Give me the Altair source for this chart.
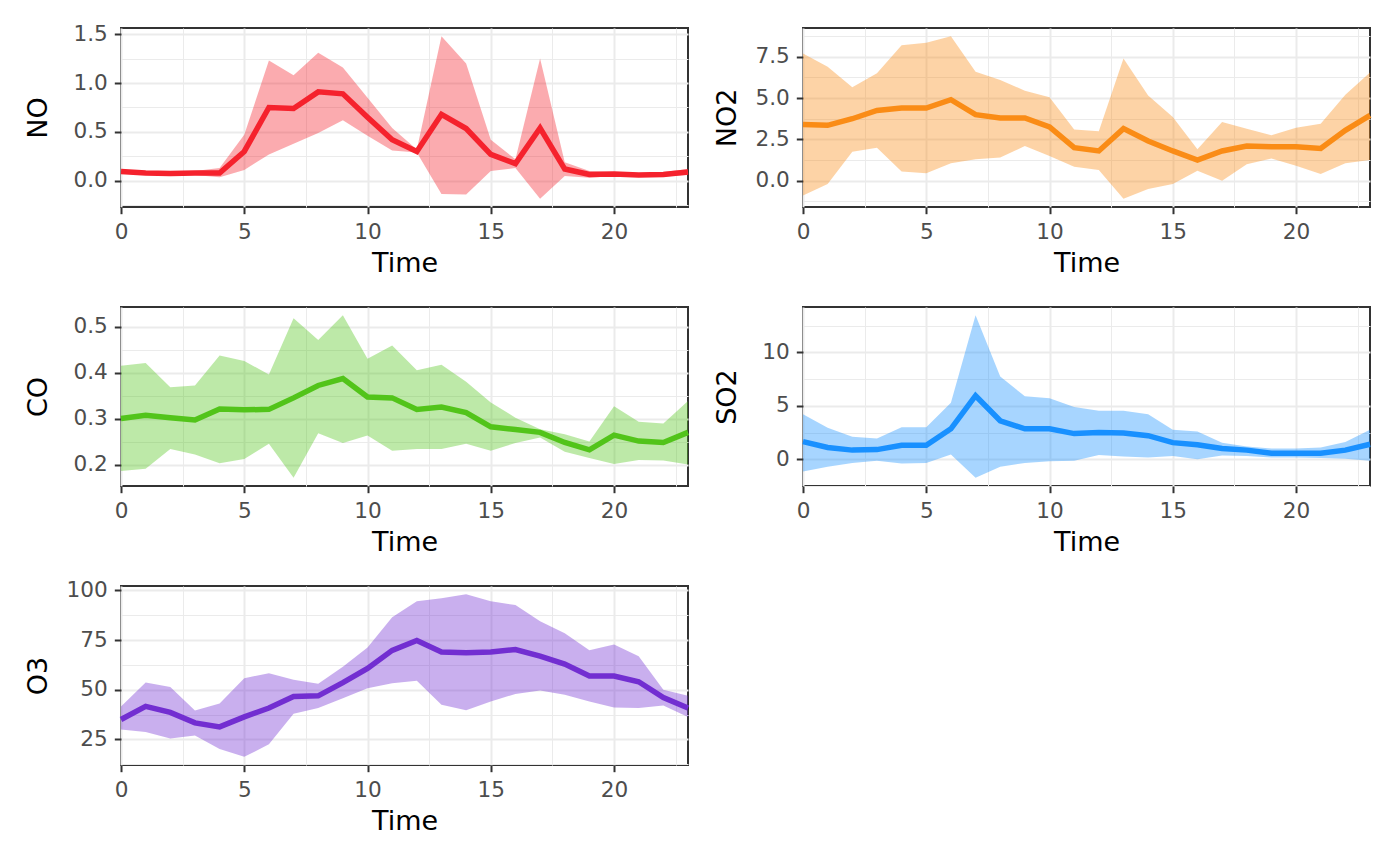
import altair as alt
import pandas as pd

hours = list(range(24))

no_mean = [0.095, 0.08, 0.075, 0.08, 0.08, 0.30, 0.75, 0.74, 0.91, 0.89, 0.65, 0.42,
           0.30, 0.68, 0.535, 0.27, 0.175, 0.54, 0.12, 0.065, 0.07, 0.06, 0.065, 0.09]
no_lo = [0.085, 0.07, 0.065, 0.06, 0.035, 0.11, 0.27, 0.38, 0.49, 0.62, 0.46, 0.31,
         0.29, -0.135, -0.14, 0.10, 0.13, -0.185, 0.05, 0.03, 0.05, 0.04, 0.045, 0.06]
no_hi = [0.10, 0.09, 0.085, 0.10, 0.13, 0.47, 1.23, 1.08, 1.31, 1.16, 0.85, 0.54,
         0.32, 1.48, 1.20, 0.42, 0.22, 1.25, 0.19, 0.10, 0.09, 0.08, 0.09, 0.12]

no2_mean = [3.4, 3.35, 3.75, 4.25, 4.4, 4.4, 4.9, 4.0, 3.8, 3.8, 3.25, 2.0,
            1.8, 3.15, 2.4, 1.8, 1.25, 1.8, 2.1, 2.05, 2.05, 1.95, 3.05, 3.95]
no2_lo = [-0.9, -0.2, 1.75, 2.0, 0.55, 0.45, 1.05, 1.3, 1.4, 2.1, 1.5, 0.85,
          0.65, -1.1, -0.5, -0.2, 0.6, 0.0, 1.0, 1.35, 0.9, 0.4, 1.05, 1.25]
no2_hi = [7.7, 6.9, 5.65, 6.5, 8.2, 8.35, 8.75, 6.6, 6.1, 5.45, 5.05, 3.1,
          3.0, 7.4, 5.15, 3.85, 1.9, 3.55, 3.15, 2.75, 3.2, 3.45, 5.2, 6.55]

co_mean = [0.300, 0.307, 0.302, 0.297, 0.321, 0.319, 0.320, 0.345, 0.372, 0.387, 0.347, 0.345,
           0.320, 0.325, 0.313, 0.282, 0.276, 0.270, 0.248, 0.232, 0.264, 0.251, 0.248, 0.270]
co_lo = [0.186, 0.191, 0.234, 0.222, 0.203, 0.212, 0.245, 0.171, 0.268, 0.247, 0.263, 0.230,
         0.234, 0.234, 0.245, 0.230, 0.247, 0.259, 0.228, 0.214, 0.201, 0.210, 0.209, 0.200]
co_hi = [0.415, 0.421, 0.368, 0.372, 0.437, 0.425, 0.396, 0.518, 0.471, 0.525, 0.430, 0.459,
         0.405, 0.417, 0.380, 0.335, 0.302, 0.277, 0.266, 0.250, 0.327, 0.293, 0.289, 0.338]

so2_mean = [1.65, 1.1, 0.85, 0.9, 1.3, 1.3, 2.85, 5.95, 3.6, 2.85, 2.85, 2.4,
            2.5, 2.45, 2.2, 1.55, 1.35, 1.0, 0.85, 0.55, 0.55, 0.55, 0.85, 1.4]
so2_lo = [-1.15, -0.7, -0.35, -0.15, -0.4, -0.35, 0.45, -1.75, -0.7, -0.35, -0.2, -0.15,
          0.4, 0.25, 0.15, 0.3, 0.0, 0.35, 0.3, 0.15, 0.15, 0.1, 0.05, -0.15]
so2_hi = [4.2, 2.95, 2.1, 1.95, 3.0, 3.0, 5.3, 13.5, 7.75, 5.9, 5.7, 4.9,
          4.55, 4.55, 4.2, 2.75, 2.6, 1.55, 1.2, 1.0, 1.0, 1.1, 1.6, 2.75]

o3_mean = [35.0, 41.6, 38.6, 33.3, 31.3, 36.3, 40.8, 46.6, 46.9, 53.6, 60.7, 69.8,
           74.8, 69.0, 68.6, 69.0, 70.2, 66.9, 62.9, 56.9, 56.9, 54.0, 46.1, 40.8]
o3_lo = [30.0, 28.7, 25.4, 27.0, 20.1, 16.2, 22.5, 37.9, 40.8, 45.7, 50.7, 53.2,
         54.5, 42.4, 39.6, 44.1, 47.9, 49.6, 47.4, 44.1, 41.1, 40.8, 42.0, 36.3]
o3_hi = [41.6, 53.6, 51.3, 39.5, 43.0, 55.8, 58.3, 55.0, 53.0, 61.6, 71.3, 86.5,
         94.5, 96.0, 98.1, 94.5, 92.6, 84.5, 78.4, 69.8, 72.8, 66.9, 50.0, 47.0]

x_breaks = [0, 5, 10, 15, 20]
no_breaks = [0.0, 0.5, 1.0, 1.5]
no2_breaks = [0.0, 2.5, 5.0, 7.5]
co_breaks = [0.2, 0.3, 0.4, 0.5]
so2_breaks = [0, 5, 10]
o3_breaks = [25, 50, 75, 100]

panels = [
    ("NO", no_mean, no_lo, no_hi, "#F5222D", no_breaks, ".1f", 55, 14),
    ("NO2", no2_mean, no2_lo, no2_hi, "#FA8C16", no2_breaks, ".1f", 48, 14),
    ("CO", co_mean, co_lo, co_hi, "#52C41A", co_breaks, ".1f", 55, 14),
    ("SO2", so2_mean, so2_lo, so2_hi, "#1890FF", so2_breaks, "d", 48, 14),
    ("O3", o3_mean, o3_lo, o3_hi, "#722ED1", o3_breaks, "d", 55, 14),
]

FONT = "DejaVu Sans"


def with_minor(breaks, lo, hi):
    step = breaks[1] - breaks[0]
    vals = set()
    for b in breaks:
        for v in (b - step / 2, b, b + step / 2):
            if lo <= v <= hi:
                vals.add(round(v, 6))
    return sorted(vals), step


def major_test(step):
    return f"abs(datum.value / {step} - round(datum.value / {step})) < 0.001"


def make_panel(name, mean, lo, hi, color, breaks, fmt, extent, tpad):
    df = pd.DataFrame({"Time": hours, "mean": mean, "lo": lo, "hi": hi})
    ymin, ymax = min(lo), max(hi)
    pad = 0.05 * (ymax - ymin)
    ydom = [ymin - pad, ymax + pad]
    yvals, ystep = with_minor(breaks, ydom[0], ydom[1])
    xvals, xstep = with_minor(x_breaks, 0, 23)
    yt = major_test(ystep)
    xt = major_test(xstep)
    xaxis = alt.Axis(
        values=xvals, title="Time", labelFlush=False, labelOverlap=False,
        labelExpr=f"{xt} ? format(datum.value, 'd') : ''",
        gridWidth={"condition": {"test": xt, "value": 2}, "value": 1},
        tickOpacity={"condition": {"test": xt, "value": 1}, "value": 0},
        labelPadding=8, titlePadding=7,
    )
    yaxis = alt.Axis(
        values=yvals, title=name, labelFlush=False, labelOverlap=False,
        labelExpr=f"{yt} ? format(datum.value, '{fmt}') : ''",
        gridWidth={"condition": {"test": yt, "value": 2}, "value": 1},
        tickOpacity={"condition": {"test": yt, "value": 1}, "value": 0},
        minExtent=extent, maxExtent=extent, titlePadding=tpad, labelPadding=7,
    )
    xs = alt.X("Time:Q", scale=alt.Scale(domain=[0, 23], nice=False, zero=False), axis=xaxis)
    ysc = alt.Scale(domain=ydom, nice=False, zero=False)
    base = alt.Chart(df)
    band = base.mark_area(color=color, opacity=0.38).encode(
        x=xs, y=alt.Y("lo:Q", scale=ysc, axis=yaxis), y2="hi:Q"
    )
    line = base.mark_line(color=color, strokeWidth=5.5).encode(
        x=xs, y=alt.Y("mean:Q", scale=ysc, axis=yaxis)
    )
    return alt.layer(band, line).properties(width=567, height=179)


charts = [make_panel(*p) for p in panels]

chart = alt.concat(
    *charts, columns=2, spacing={"row": 100, "column": 115}, bounds="flush"
).properties(
    padding={"left": 15, "top": 14, "right": 5, "bottom": 5},
    background="white",
).configure_view(
    stroke="#333333", strokeWidth=2
).configure_axis(
    labelFont=FONT, titleFont=FONT, labelFontSize=21.6, titleFontSize=27,
    labelColor="#4D4D4D", titleColor="#000000", titleFontWeight="normal",
    tickColor="#333333", tickWidth=2, tickSize=6.7, labelPadding=6,
    domain=False, gridColor="#EBEBEB", titlePadding=6,
)

chart.save("out.html", embed_options={"renderer": "svg", "actions": False})
